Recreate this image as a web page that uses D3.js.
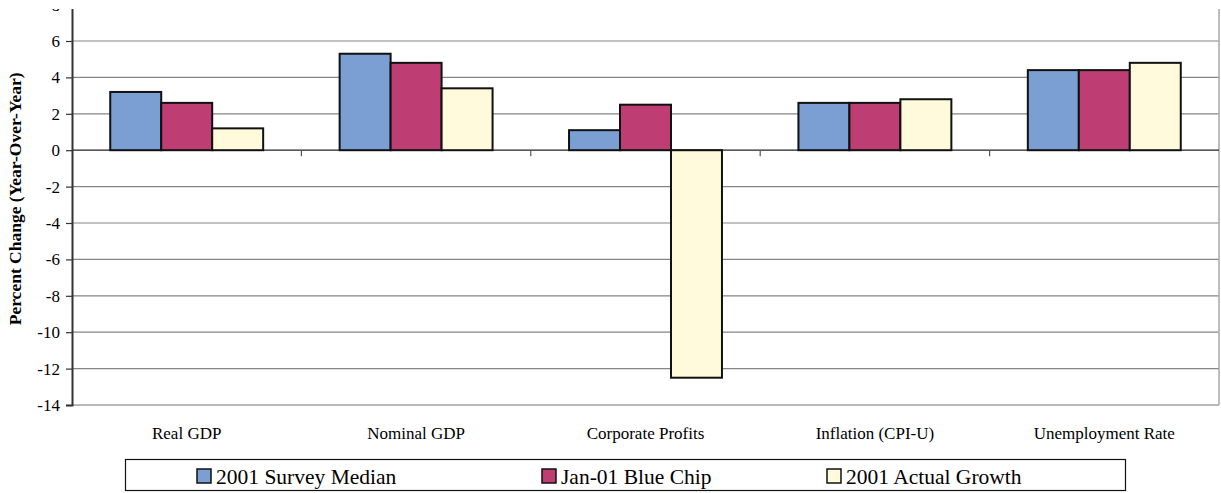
<!DOCTYPE html>
<html>
<head>
<meta charset="utf-8">
<script src="https://cdn.jsdelivr.net/npm/d3@7"></script>
<style>
  html, body { margin: 0; padding: 0; background: #fff; }
  svg { display: block; }
  svg text { font-family: "Liberation Serif", "Times New Roman", serif; fill: #000; }
</style>
</head>
<body>
<svg id="chart" width="1221" height="493"></svg>
<script>
// Forecast vs. actual, percent change year-over-year
const categories = ["Real GDP", "Nominal GDP", "Corporate Profits", "Inflation (CPI-U)", "Unemployment Rate"];
const seriesNames = ["2001 Survey Median", "Jan-01 Blue Chip", "2001 Actual Growth"];
const surveyMedian = [3.2, 5.3, 1.1, 2.6, 4.4];
const blueChip     = [2.6, 4.8, 2.5, 2.6, 4.4];
const actualGrowth = [1.2, 3.4, -12.5, 2.8, 4.8];
const yTicks = [-14, -12, -10, -8, -6, -4, -2, 0, 2, 4, 6, 8];

const seriesValues = [surveyMedian, blueChip, actualGrowth];
const colors = ["#7B9FD3", "#BE3E73", "#FFFADC"];
const SERIF = "'Liberation Serif', 'Times New Roman', serif";

const svg = d3.select("#chart");
const W = 1221, H = 493;
const plot = { left: 72, right: 1219, top: 4.6, bottom: 405 };

// the sheet is trimmed just above the plot
svg.append("defs").append("clipPath").attr("id", "page")
  .append("rect").attr("x", 0).attr("y", 9).attr("width", W).attr("height", H - 9);
const g = svg.append("g").attr("clip-path", "url(#page)");

const x = d3.scaleBand().domain(categories).range([plot.left, plot.right]).padding(0);
const catW = x.bandwidth();
const barW = catW / 4.5;                 // 150% gap between groups
const xs = d3.scaleBand().domain(seriesNames).range([0.75 * barW, catW - 0.75 * barW]).padding(0);
const y = d3.scaleLinear().domain([-14, 8]).range([plot.bottom, plot.top]);

// gridlines
g.append("g").selectAll("line")
  .data(yTicks.filter(v => v !== 0 && v !== -14 && v !== 8))
  .join("line")
  .attr("x1", plot.left).attr("x2", plot.right)
  .attr("y1", d => y(d)).attr("y2", d => y(d))
  .attr("stroke", "#858585").attr("stroke-width", 1.2);

// plot frame (right and bottom)
g.append("line").attr("x1", plot.right).attr("x2", plot.right)
  .attr("y1", plot.top).attr("y2", plot.bottom)
  .attr("stroke", "#a8a8a8").attr("stroke-width", 1.5);
g.append("line").attr("x1", plot.left).attr("x2", plot.right)
  .attr("y1", plot.bottom).attr("y2", plot.bottom)
  .attr("stroke", "#b8b8b8").attr("stroke-width", 2);

// zero line with category tick marks
g.append("line").attr("x1", plot.left).attr("x2", plot.right)
  .attr("y1", y(0)).attr("y2", y(0))
  .attr("stroke", "#222").attr("stroke-width", 1.2);
g.append("g").selectAll("line")
  .data(categories.slice(1))
  .join("line")
  .attr("x1", d => x(d)).attr("x2", d => x(d))
  .attr("y1", y(0)).attr("y2", y(0) + 6)
  .attr("stroke", "#555").attr("stroke-width", 1.2);

// bars
const groups = g.append("g").selectAll("g")
  .data(categories)
  .join("g")
  .attr("transform", d => `translate(${x(d)},0)`);
groups.selectAll("rect")
  .data((c, i) => seriesNames.map((s, k) => ({ s, k, v: seriesValues[k][i] })))
  .join("rect")
  .attr("x", d => xs(d.s))
  .attr("width", xs.bandwidth())
  .attr("y", d => y(Math.max(0, d.v)))
  .attr("height", d => Math.abs(y(d.v) - y(0)))
  .attr("fill", d => colors[d.k])
  .attr("stroke", "#111")
  .attr("stroke-width", 2);

// value axis (plain hyphen for negatives)
const yAxis = d3.axisLeft(y).tickValues(yTicks).tickSize(6).tickPadding(6).tickFormat(d => String(d));
const ya = g.append("g").attr("transform", `translate(${plot.left},0)`).call(yAxis)
  .attr("font-family", SERIF).attr("font-size", 17);
ya.select(".domain").attr("stroke", "#333").attr("stroke-width", 2);
ya.selectAll(".tick line").attr("stroke", "#333").attr("stroke-width", 1.2);
ya.selectAll(".tick text")
  .style("font-family", SERIF)
  .style("font-size", "17px").attr("fill", "#000");

// axis title
g.append("text")
  .attr("transform", `translate(21,${(plot.top + plot.bottom) / 2 - 6}) rotate(-90)`)
  .attr("text-anchor", "middle")
  .style("font-family", SERIF)
  .style("font-size", "17.5px").style("font-weight", "bold")
  .text("Percent Change (Year-Over-Year)");

// category labels
g.append("g").selectAll("text")
  .data(categories)
  .join("text")
  .attr("x", d => x(d) + catW / 2)
  .attr("y", 439)
  .attr("text-anchor", "middle")
  .style("font-family", SERIF)
  .style("font-size", "17px")
  .text(d => d);

// legend
const legend = g.append("g");
legend.append("rect")
  .attr("x", 125.5).attr("y", 459.5).attr("width", 1000).attr("height", 31)
  .attr("fill", "#fff").attr("stroke", "#111").attr("stroke-width", 1.2);
const legendX = [197, 542, 827];
const items = legend.selectAll("g.item")
  .data(seriesNames)
  .join("g").attr("class", "item")
  .attr("transform", (d, i) => `translate(${legendX[i]},469)`);
items.append("rect")
  .attr("width", 14).attr("height", 14)
  .attr("fill", (d, i) => colors[i])
  .attr("stroke", "#111").attr("stroke-width", 1.5);
items.append("text")
  .attr("x", 19).attr("y", 15)
  .style("font-family", SERIF)
  .style("font-size", "21.5px")
  .text(d => d);
</script>
</body>
</html>
